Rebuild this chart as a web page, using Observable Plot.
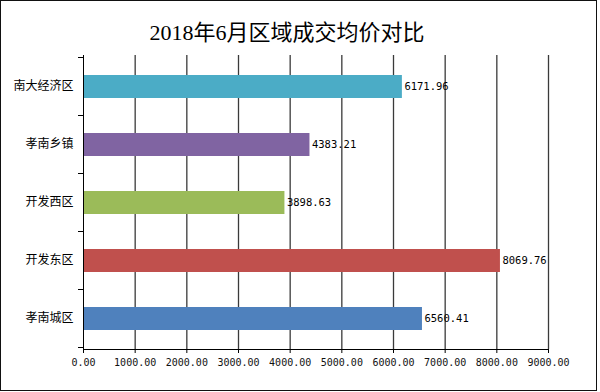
<!DOCTYPE html>
<html>
<head>
<meta charset="utf-8">
<script src="https://cdn.jsdelivr.net/npm/d3@7"></script>
<script src="https://cdn.jsdelivr.net/npm/@observablehq/plot@0.6"></script>
<style>
  html, body { margin: 0; padding: 0; background: #fff; }
  #wrap { position: relative; width: 600px; height: 392px; overflow: hidden; background: #fff; }
  #title { position: absolute; left: 0; width: 574px; top: 21px; text-align: center;
    font-family: "Liberation Serif", "Noto Sans CJK SC", serif; font-size: 22px; line-height: 24px; color: #000; }
  #chart { position: absolute; left: 0; top: 40px; }
  #border { position: absolute; left: 0; top: 0; width: 597px; height: 391px; box-sizing: border-box; border: 1.5px solid #111; pointer-events: none; }
</style>
</head>
<body>
<div id="wrap">
  <div id="title">2018年6月区域成交均价对比</div>
  <div id="chart"></div>
  <div id="border"></div>
</div>
<script>
const categories = ["南大经济区", "孝南乡镇", "开发西区", "开发东区", "孝南城区"];
const values = [6171.96, 4383.21, 3898.63, 8069.76, 6560.41];
const colors = ["#4bacc6", "#8064a2", "#9bbb59", "#c0504d", "#4f81bd"];
const xTicks = [0, 1000, 2000, 3000, 4000, 5000, 6000, 7000, 8000, 9000];

const data = categories.map((c, i) => ({c, v: values[i]}));
const mono = "'DejaVu Sans Mono', 'Liberation Mono', monospace";
const cjk = "'Noto Sans CJK SC', sans-serif";

// y-axis tick marks at band boundaries, computed from the band scale
function boundaryTicks(index, scales, values, dims) {
  const y = scales.y;
  const ys = categories.map(c => y(c));
  const step = ys[1] - ys[0];
  const bounds = [...ys, ys[ys.length - 1] + step];
  const g = d3.create("svg:g");
  g.selectAll("line").data(bounds).join("line")
    .attr("x1", dims.marginLeft - 5).attr("x2", dims.marginLeft + 0.5)
    .attr("y1", d => Math.round(d) + 0.5).attr("y2", d => Math.round(d) + 0.5)
    .attr("stroke", "#000");
  return g.node();
}

const plot = Plot.plot({
  width: 600,
  height: 352,
  marginLeft: 83,
  marginRight: 52,
  marginTop: 15,
  marginBottom: 43,
  style: {background: "transparent", fontFamily: mono},
  x: {domain: [0, 9000], label: null},
  y: {domain: categories, padding: 0, label: null},
  color: {domain: categories, range: colors},
  marks: [
    Plot.ruleX(xTicks.slice(1), {stroke: "#3a3a3a", strokeWidth: 1.3}),
    Plot.barX(data, {y: "c", x: "v", fill: "c", insetTop: 18, insetBottom: 17}),
    Plot.text(data, {y: "c", x: "v", text: d => d.v.toFixed(2), textAnchor: "start", dx: 2,
      fontFamily: mono, fontSize: 10.5, fill: "#000"}),
    Plot.ruleX([0], {stroke: "#000"}),
    Plot.frame({anchor: "bottom", stroke: "#000"}),
    Plot.axisX(xTicks, {tickFormat: d => d.toFixed(2), tickSize: 4, tickPadding: 5, label: null,
      fontFamily: mono, fontSize: 10, stroke: "#000", fill: "#111"}),
    Plot.axisY({tickSize: 0, tickPadding: 10, label: null, fontFamily: cjk, fontSize: 12, fill: "#000"}),
    boundaryTicks
  ]
});
document.getElementById("chart").appendChild(plot);
</script>
</body>
</html>
